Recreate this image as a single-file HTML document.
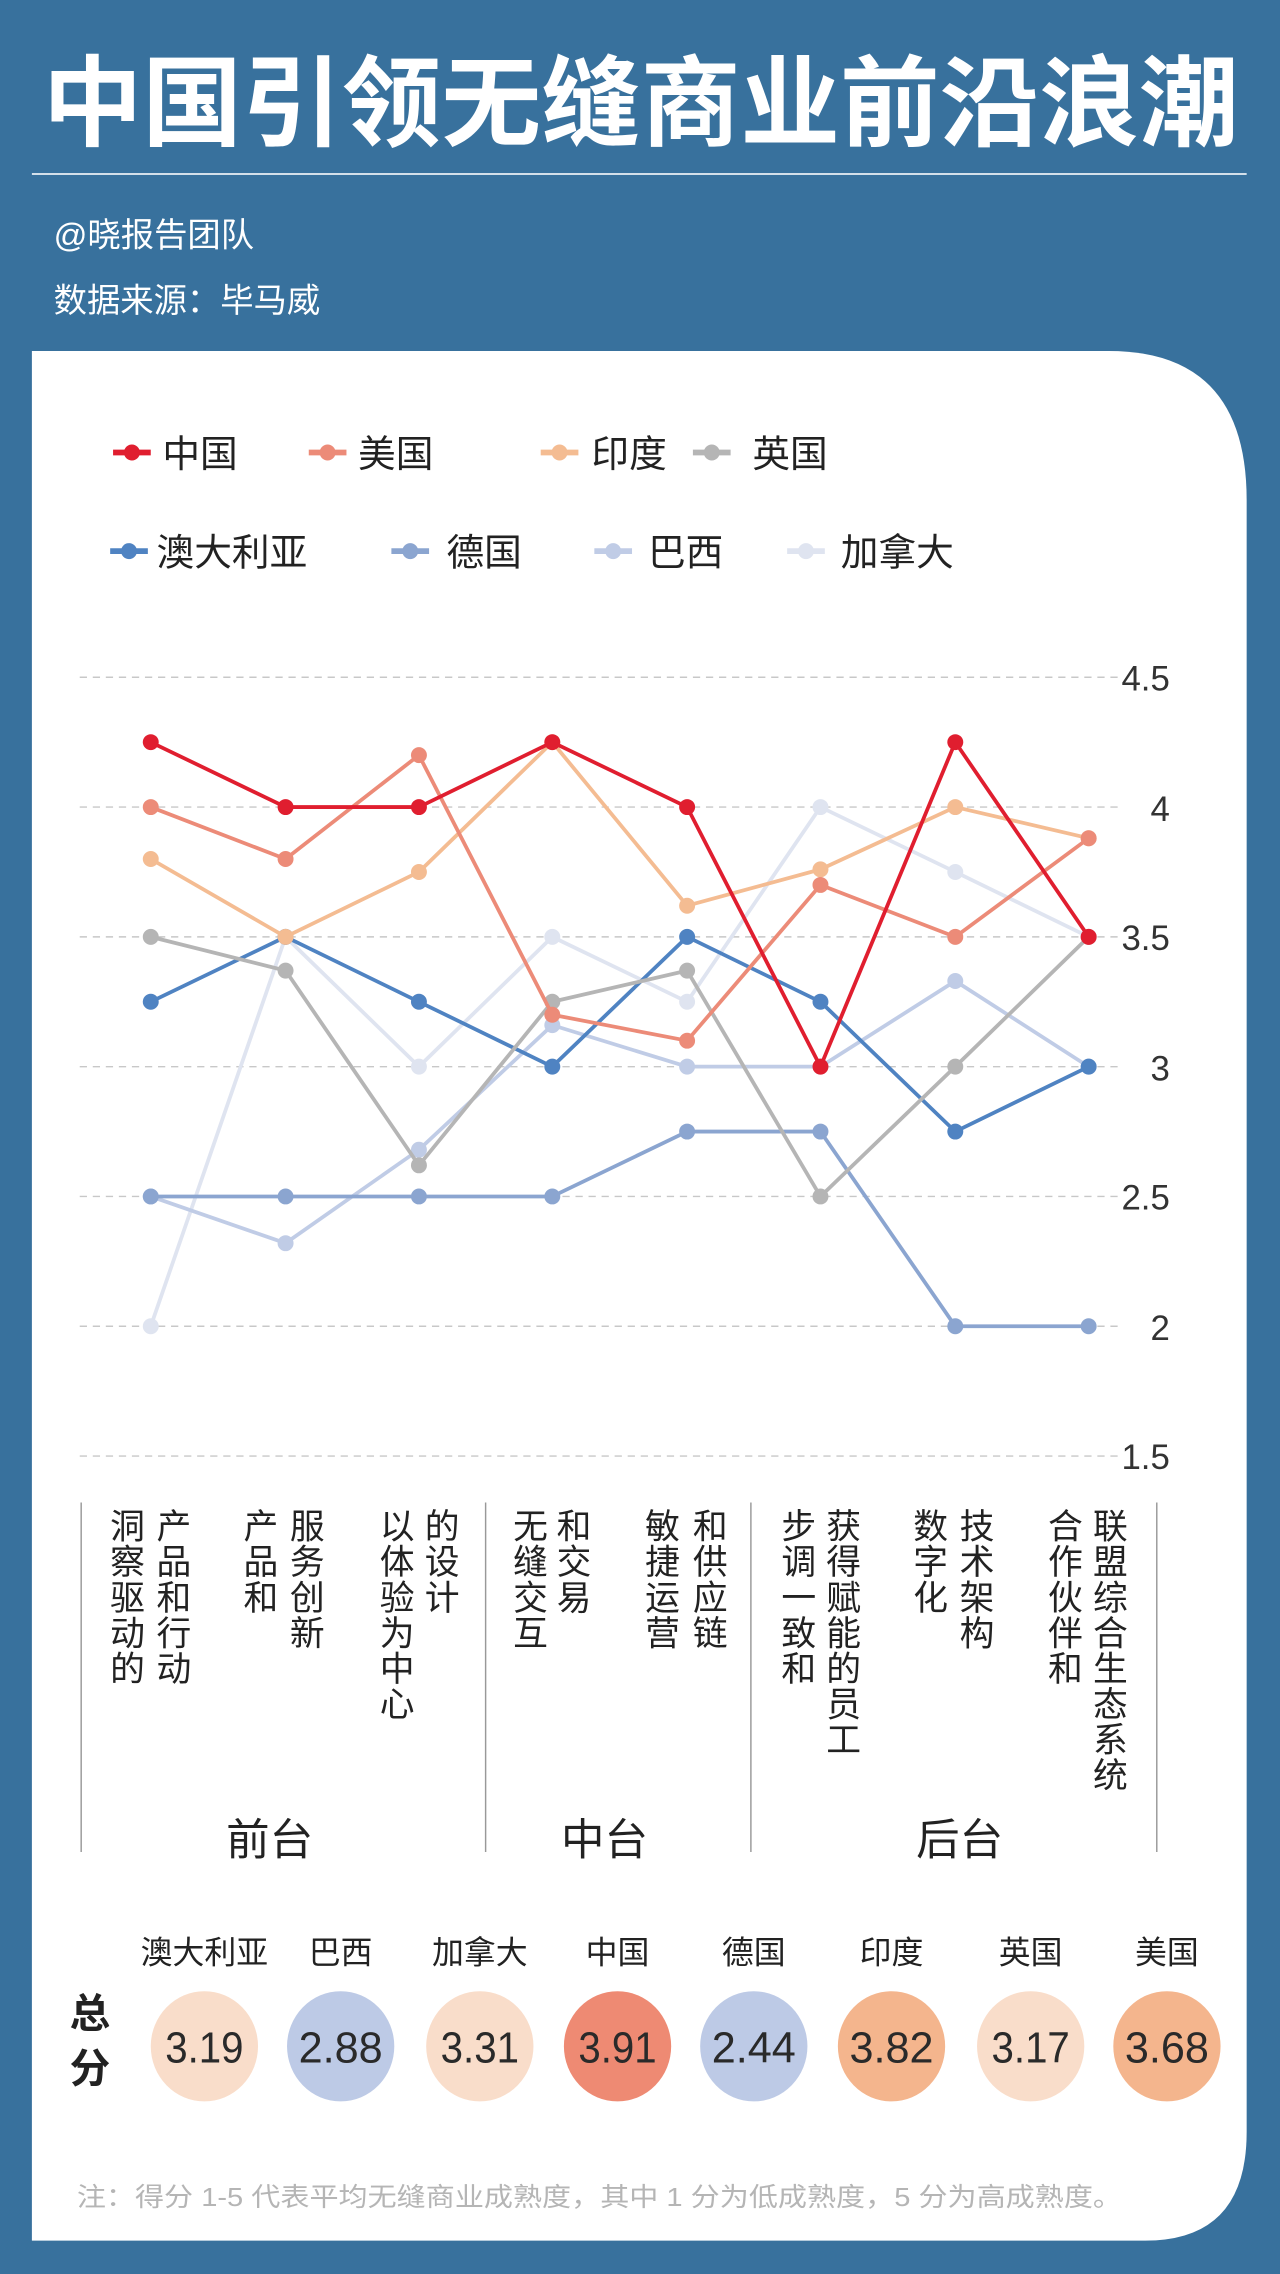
<!DOCTYPE html>
<html><head><meta charset="utf-8"><style>
html,body{margin:0;padding:0;background:#38719d;}
svg{display:block}
text{font-family:"Liberation Sans","Noto Sans CJK SC",sans-serif;}
</style></head><body>
<svg id="s" width="1280" height="2274" viewBox="0 0 883 1568" preserveAspectRatio="none" xmlns="http://www.w3.org/2000/svg">
<rect width="883" height="1568" fill="#38719d"/>
<text x="442" y="95" text-anchor="middle" font-size="68" font-weight="bold" fill="#fff" textLength="825" lengthAdjust="spacingAndGlyphs">中国引领无缝商业前沿浪潮</text>
<line x1="22" y1="120" x2="860" y2="120" stroke="#fff" stroke-width="1.2" opacity="0.9"/>
<text x="37" y="170" font-size="23" fill="#fff">@晓报告团队</text>
<text x="37" y="215" font-size="23" fill="#fff">数据来源：毕马威</text>
<path d="M22 242 H765 Q860 242 860 345 V1470 Q860 1545 790 1545 H22 Z" fill="#fff"/>
<!-- legend -->
<g font-size="26" fill="#222">
<g id="leg"></g>
<text x="112" y="322">中国</text>
<text x="247" y="322">美国</text>
<text x="408" y="322">印度</text>
<text x="519" y="322">英国</text>
<text x="108" y="390">澳大利亚</text>
<text x="308" y="390">德国</text>
<text x="447" y="390">巴西</text>
<text x="580" y="390">加拿大</text>
</g>
<!-- grid -->
<g stroke="#c8c8c8" stroke-width="1" stroke-dasharray="5,4">
<line x1="55" y1="467" x2="775" y2="467"/><line x1="55" y1="556.5" x2="775" y2="556.5"/>
<line x1="55" y1="646" x2="775" y2="646"/><line x1="55" y1="735.5" x2="775" y2="735.5"/>
<line x1="55" y1="825" x2="775" y2="825"/><line x1="55" y1="914.5" x2="775" y2="914.5"/>
<line x1="55" y1="1004" x2="775" y2="1004"/>
</g>
<g font-size="24" fill="#333" text-anchor="end">
<text x="807" y="476">4.5</text><text x="807" y="566">4</text><text x="807" y="655">3.5</text>
<text x="807" y="745">3</text><text x="807" y="834">2.5</text><text x="807" y="924">2</text>
<text x="807" y="1013">1.5</text>
</g>
<g id="series" fill="none" stroke-width="2.6" stroke-linejoin="round"></g>
<!-- separators -->
<g stroke="#999" stroke-width="1">
<line x1="56" y1="1036" x2="56" y2="1277"/><line x1="335" y1="1036" x2="335" y2="1277"/>
<line x1="518" y1="1036" x2="518" y2="1277"/><line x1="798" y1="1036" x2="798" y2="1277"/>
</g>
<g id="cats" font-size="24" fill="#222" text-anchor="middle"></g>
<g font-size="30" fill="#222" text-anchor="middle">
<text x="186" y="1279">前台</text><text x="417" y="1279">中台</text><text x="662" y="1279">后台</text>
</g>
<!-- scores -->
<g font-size="22" fill="#222" text-anchor="middle">
<text x="141" y="1354">澳大利亚</text><text x="235" y="1354">巴西</text><text x="331" y="1354">加拿大</text>
<text x="426" y="1354">中国</text><text x="520" y="1354">德国</text><text x="615" y="1354">印度</text>
<text x="711" y="1354">英国</text><text x="805" y="1354">美国</text>
</g>
<text x="62" y="1398" font-size="28" font-weight="bold" fill="#222" text-anchor="middle">总</text>
<text x="62" y="1436" font-size="28" font-weight="bold" fill="#222" text-anchor="middle">分</text>
<g>
<ellipse cx="141" cy="1411" rx="37" ry="38" fill="#f9ddca"/>
<ellipse cx="235" cy="1411" rx="37" ry="38" fill="#bdcae6"/>
<ellipse cx="331" cy="1411" rx="37" ry="38" fill="#f9ddca"/>
<ellipse cx="426" cy="1411" rx="37" ry="38" fill="#ee8a73"/>
<ellipse cx="520" cy="1411" rx="37" ry="38" fill="#bdcae6"/>
<ellipse cx="615" cy="1411" rx="37" ry="38" fill="#f4b58d"/>
<ellipse cx="711" cy="1411" rx="37" ry="38" fill="#f9ddca"/>
<ellipse cx="805" cy="1411" rx="37" ry="38" fill="#f4b58d"/>
</g>
<g font-size="30" fill="#2a2a2a" text-anchor="middle">
<text x="141" y="1422" textLength="54" lengthAdjust="spacingAndGlyphs">3.19</text>
<text x="235" y="1422" textLength="58" lengthAdjust="spacingAndGlyphs">2.88</text>
<text x="331" y="1422" textLength="54" lengthAdjust="spacingAndGlyphs">3.31</text>
<text x="426" y="1422" textLength="54" lengthAdjust="spacingAndGlyphs">3.91</text>
<text x="520" y="1422" textLength="58" lengthAdjust="spacingAndGlyphs">2.44</text>
<text x="615" y="1422" textLength="58" lengthAdjust="spacingAndGlyphs">3.82</text>
<text x="711" y="1422" textLength="54" lengthAdjust="spacingAndGlyphs">3.17</text>
<text x="805" y="1422" textLength="58" lengthAdjust="spacingAndGlyphs">3.68</text>
</g>
<text x="53" y="1521" font-size="18" fill="#b5b5b5" textLength="721" lengthAdjust="spacingAndGlyphs">注：得分 1-5 代表平均无缝商业成熟度，其中 1 分为低成熟度，5 分为高成熟度。</text>
</svg>
<script>
var NS="http://www.w3.org/2000/svg";
function el(t,a,p){var e=document.createElementNS(NS,t);for(var k in a)e.setAttribute(k,a[k]);p.appendChild(e);return e;}
var X=[104,197,289,381,474,566,659,751];
function Y(v){return 467+(4.5-v)*179;}
var S=[
["#dfe4f0",[2,3.5,3,3.5,3.25,4,3.75,3.5]],
["#c0cce6",[2.5,2.32,2.68,3.16,3,3,3.33,3]],
["#8ba5d0",[2.5,2.5,2.5,2.5,2.75,2.75,2,2]],
["#4f83c2",[3.25,3.5,3.25,3,3.5,3.25,2.75,3]],
["#b5b5b5",[3.5,3.37,2.62,3.25,3.37,2.5,3,3.5]],
["#f4bc92",[3.8,3.5,3.75,4.25,3.62,3.76,4,3.88]],
["#ec8b78",[4,3.8,4.2,3.2,3.1,3.7,3.5,3.88]],
["#e01e2f",[4.25,4,4,4.25,4,3,4.25,3.5]]];
var g=document.getElementById("series");
S.forEach(function(s){
 var pts=s[1].map(function(v,i){return X[i]+","+Y(v);}).join(" ");
 el("polyline",{points:pts,stroke:s[0]},g);
 s[1].forEach(function(v,i){el("circle",{cx:X[i],cy:Y(v),r:5.5,fill:s[0],stroke:"none"},g);});
});
var L=document.getElementById("leg");
[["#e01e2f",78,312],["#ec8b78",213,312],["#f4bc92",373,312],["#b5b5b5",478,312],
 ["#4f83c2",76,380],["#8ba5d0",270,380],["#c0cce6",410,380],["#dfe4f0",543,380]].forEach(function(m){
 el("line",{x1:m[1],y1:m[2],x2:m[1]+26,y2:m[2],stroke:m[0],"stroke-width":4},L);
 el("circle",{cx:m[1]+13,cy:m[2],r:5.5,fill:m[0]},L);
});
var C=[[88,"洞察驱动的"],[120,"产品和行动"],[180,"产品和"],[212,"服务创新"],[274,"以体验为中心"],[305,"的设计"],
[366,"无缝交互"],[396,"和交易"],[457,"敏捷运营"],[490,"和供应链"],[551,"步调一致和"],[582,"获得赋能的员工"],
[642,"数字化"],[674,"技术架构"],[735,"合作伙伴和"],[766,"联盟综合生态系统"]];
var cg=document.getElementById("cats");
C.forEach(function(c){
 for(var i=0;i<c[1].length;i++){var t=el("text",{x:c[0],y:1061+i*24.5},cg);t.textContent=c[1][i];}
});
</script>
</body></html>
